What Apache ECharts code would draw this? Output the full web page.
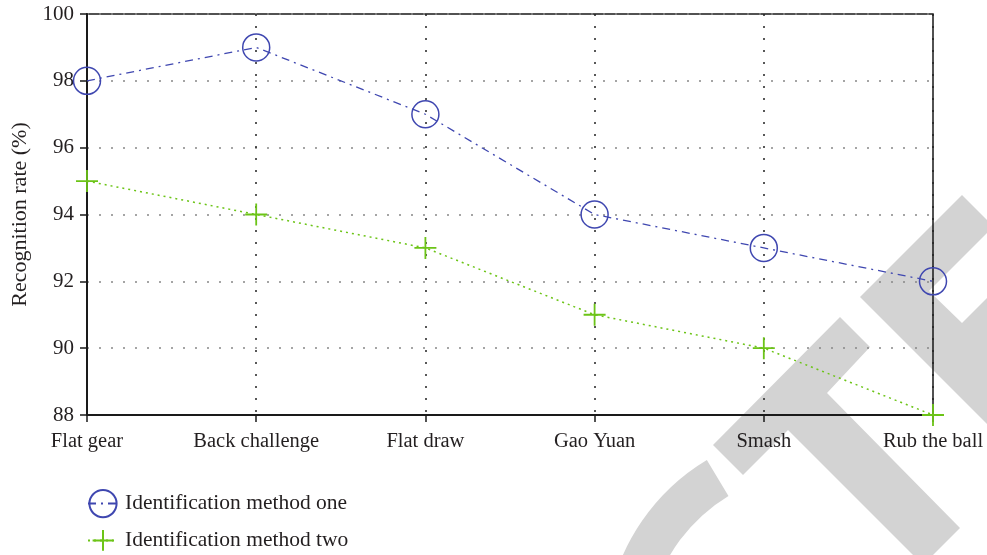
<!DOCTYPE html>
<html>
<head>
<meta charset="utf-8">
<script src="https://cdn.jsdelivr.net/npm/echarts@6/dist/echarts.min.js"></script>
<style>
html,body{margin:0;padding:0;background:#fff;}
#chart{width:987px;height:555px;}
</style>
</head>
<body>
<div id="chart"></div>
<script>
const categories = ['Flat gear', 'Back challenge', 'Flat draw', 'Gao Yuan', 'Smash', 'Rub the ball'];
const methodOne = [98, 99, 97, 94, 93, 92];
const methodTwo = [95, 94, 93, 91, 90, 88];
const seriesNames = ['Identification method one', 'Identification method two'];
const yTicks = {min: 88, max: 100, interval: 2};

const FONT = '"Liberation Serif", "DejaVu Serif", serif';
const TXT = '#231f20';
const BLUE = '#3f47b0';
const GREEN = '#6cc417';
const WM = '#d3d3d3';

const legendText = {fontFamily: FONT, fontSize: 21.5, color: TXT, padding: [0, 0, 0, 2]};

const chart = echarts.init(document.getElementById('chart'), null, {renderer: 'canvas'});
chart.setOption({
  animation: false,
  backgroundColor: '#fff',
  textStyle: {fontFamily: FONT, color: TXT},
  graphic: [
    {type: 'polygon', z: -5, silent: true,
     shape: {points: [[713,445],[840,317],[870,347],[827,393],[960,528],[933,555],[913,555],[788,430],[743,475]]},
     style: {fill: WM}},
    {type: 'polygon', z: -5, silent: true,
     shape: {points: [[860,297],[962,195],[987,220],[987,233],[929,291],[962,323],[987,298],[987,424]]},
     style: {fill: WM}},
    {type: 'sector', z: -5, silent: true,
     shape: {cx: 815, cy: 640, r0: 168, r: 210, startAngle: Math.PI*100/180, endAngle: Math.PI*239/180, clockwise: true},
     style: {fill: WM}}
  ],
  grid: {left: 87, right: 54, top: 14, bottom: 140, show: true, borderColor: '#1a1a1a', borderWidth: 1.5, backgroundColor: 'transparent'},
  legend: [
    {orient: 'vertical', left: 87, top: 489, padding: 0, itemWidth: 30, itemHeight: 34,
     textStyle: legendText, data: [seriesNames[0]]},
    {orient: 'vertical', left: 87, top: 529, padding: 0, itemWidth: 30, itemHeight: 26,
     textStyle: legendText, data: [seriesNames[1]]}
  ],
  xAxis: {
    type: 'category', data: categories, boundaryGap: false,
    axisLine: {lineStyle: {color: '#1a1a1a', width: 2}},
    axisTick: {show: true, inside: false, length: 7, lineStyle: {color: '#1a1a1a', width: 1.5}},
    axisLabel: {fontFamily: FONT, fontSize: 20.5, color: TXT, margin: 16},
    splitLine: {show: true, lineStyle: {color: '#222', width: 1.5, type: [2, 10]}}
  },
  yAxis: {
    type: 'value', min: yTicks.min, max: yTicks.max, interval: yTicks.interval,
    name: 'Recognition rate (%)', nameLocation: 'middle', nameGap: 44, nameRotate: 90,
    nameTextStyle: {fontFamily: FONT, fontSize: 22, color: TXT},
    axisLine: {show: true, lineStyle: {color: '#1a1a1a', width: 2}},
    axisTick: {show: true, inside: false, length: 7, lineStyle: {color: '#1a1a1a', width: 1.5}},
    axisLabel: {fontFamily: FONT, fontSize: 21, color: TXT, margin: 13},
    splitLine: {show: true, lineStyle: {color: '#888', width: 1.5, type: [2, 10]}}
  },
  series: [
    {
      name: seriesNames[0], type: 'line', data: methodOne,
      symbol: 'circle', symbolSize: 27,
      itemStyle: {color: 'rgba(255,255,255,0)', borderColor: BLUE, borderWidth: 1.5},
      lineStyle: {color: BLUE, width: 1.3, type: [8, 5, 2, 5]}
    },
    {
      name: seriesNames[1], type: 'line', data: methodTwo,
      symbol: 'path://M10,0 L10,20 M0,10 L20,10', symbolSize: 22,
      itemStyle: {color: GREEN, borderColor: GREEN, borderWidth: 1.8},
      lineStyle: {color: GREEN, width: 1.5, type: [2, 4]}
    }
  ]
});
</script>
</body>
</html>
